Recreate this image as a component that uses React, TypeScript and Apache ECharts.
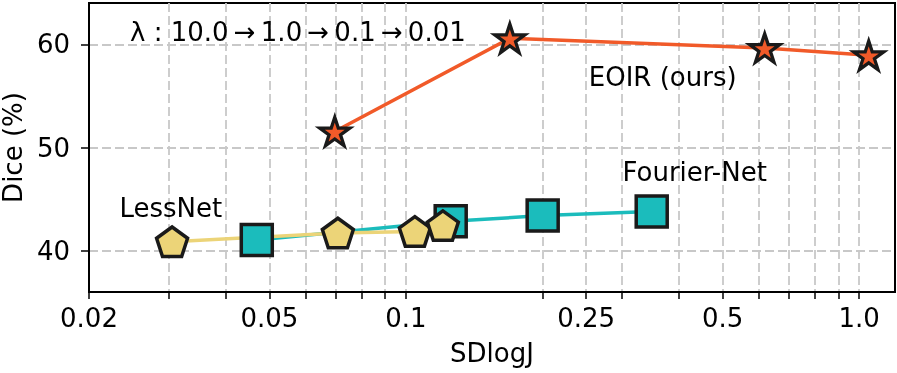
import React, { useEffect, useRef } from 'react';
import * as echarts from 'echarts';

// ---- data ----
const eoirX = [0.0697, 0.1696, 0.619, 1.05];
const eoirY = [51.55, 60.58, 59.64, 58.93];
const fourierX = [0.0469, 0.1256, 0.2004, 0.3487];
const fourierY = [41.04, 42.85, 43.4, 43.8];
const lessX = [0.0305, 0.0708, 0.1047, 0.1207];
const lessY = [40.87, 41.72, 41.87, 42.43];

const xTickValues = [0.02, 0.03, 0.04, 0.05, 0.06, 0.07, 0.08, 0.09, 0.1, 0.2, 0.25, 0.3, 0.4, 0.5, 0.6, 0.7, 0.8, 0.9, 1.0];
const xLabelValues = [0.02, 0.05, 0.1, 0.25, 0.5, 1.0];
const yTickValues = [40, 50, 60];

const annText = ['λ : 10.0\u2009→\u20091.0\u2009→\u20090.1\u2009→\u20090.01', 'EOIR (ours)', 'Fourier-Net', 'LessNet'];
const annX = [0.0578, 0.3687, 0.4337, 0.0303];
const annY = [61.17, 56.8, 47.67, 44.17];

const FONT = 'DejaVu Sans';
const EDGE = '#1a1a1a';
const FS = 26;

function starPath(): string {
  const pts: string[] = [];
  const inner = 0.381966;
  for (let i = 0; i < 10; i++) {
    const r = i % 2 === 0 ? 1 : inner;
    const a = -Math.PI / 2 + (i * Math.PI) / 5;
    pts.push(`${(r * Math.cos(a)).toFixed(4)} ${(r * Math.sin(a)).toFixed(4)}`);
  }
  return 'path://M' + pts.join(' L') + ' Z';
}
function pentagonPath(): string {
  const pts: string[] = [];
  for (let i = 0; i < 5; i++) {
    const a = -Math.PI / 2 + (i * 2 * Math.PI) / 5;
    pts.push(`${Math.cos(a).toFixed(4)} ${Math.sin(a).toFixed(4)}`);
  }
  return 'path://M' + pts.join(' L') + ' Z';
}

const zip = (xs: number[], ys: number[]) => xs.map((x, i) => [x, ys[i]]);

export default function App() {
  const ref = useRef<HTMLDivElement>(null);
  useEffect(() => {
    document.body.style.margin = '0';
    const chart = echarts.init(ref.current!, undefined, { renderer: 'svg' });
    const gridLine = { show: true, lineStyle: { color: '#c8c8c8', width: 1.8, type: [9, 4] as any } };
    chart.setOption({
      animation: false,
      grid: {
        left: 89, right: 2, top: 3, bottom: 81, show: true, borderColor: '#000', borderWidth: 2,
        backgroundColor: 'transparent', containLabel: false, outerBoundsMode: 'none',
      },
      xAxis: {
        type: 'log',
        logBase: 10,
        min: 0.02,
        max: 1.2,
        name: 'SDlogJ',
        nameLocation: 'middle',
        nameGap: 48,
        nameTextStyle: { fontFamily: FONT, fontSize: FS, color: '#000' },
        axisLine: { show: true, lineStyle: { color: '#000', width: 2 } },
        axisTick: { show: true, customValues: xTickValues, length: 7, lineStyle: { color: '#000', width: 1.5 } },
        axisLabel: {
          customValues: xLabelValues,
          fontFamily: FONT, fontSize: FS, color: '#000', margin: 13,
          formatter: (v: number) => (v === 1 ? '1.0' : String(v)),
        },
        splitLine: gridLine,
        minorTick: { show: false },
      },
      yAxis: {
        type: 'value',
        min: 36,
        max: 64,
        name: 'Dice (%)',
        nameLocation: 'middle',
        nameGap: 59,
        nameTextStyle: { fontFamily: FONT, fontSize: FS, color: '#000' },
        axisLine: { show: true, lineStyle: { color: '#000', width: 2 } },
        axisTick: { show: true, customValues: yTickValues, length: 8, lineStyle: { color: '#000', width: 1.5 } },
        axisLabel: { customValues: yTickValues, fontFamily: FONT, fontSize: FS, color: '#000', margin: 19 },
        splitLine: gridLine,
      },
      series: [
        { type: 'line', data: zip(eoirX, eoirY), symbol: 'none', lineStyle: { color: '#F15A29', width: 3.5 }, z: 2 },
        { type: 'line', data: zip(fourierX, fourierY), symbol: 'none', lineStyle: { color: '#1BBCBC', width: 3.5 }, z: 2 },
        { type: 'line', data: zip(lessX, lessY), symbol: 'none', lineStyle: { color: '#ECD478', width: 3.5 }, z: 2 },
        {
          type: 'scatter', data: zip(fourierX, fourierY), symbol: 'rect', symbolSize: 31, z: 3,
          itemStyle: { color: '#1BBCBC', borderColor: EDGE, borderWidth: 3.5, opacity: 1 },
        },
        {
          type: 'scatter', data: zip(lessX, lessY), symbol: pentagonPath(), symbolKeepAspect: true, symbolSize: 31, z: 4,
          itemStyle: { color: '#ECD478', borderColor: EDGE, borderWidth: 3.5, borderJoin: 'miter', opacity: 1 },
        },
        {
          type: 'scatter', data: zip(eoirX, eoirY), symbol: starPath(), symbolKeepAspect: true, symbolSize: 30, z: 5,
          itemStyle: { color: '#F15A29', borderColor: EDGE, borderWidth: 3.3, borderJoin: 'miter', opacity: 1 },
        },
        {
          type: 'scatter', symbolSize: 0, z: 6, silent: true,
          itemStyle: { opacity: 1 },
          data: annText.map((t, i) => ({ value: [annX[i], annY[i]], name: t })),
          label: {
            show: true, position: 'inside', formatter: (p: any) => p.name,
            fontFamily: FONT, fontSize: FS, color: '#000', opacity: 1,
          },
        },
      ],
    });
    return () => chart.dispose();
  }, []);
  return <div ref={ref} style={{ position: 'fixed', left: 0, top: 0, width: 897, height: 373 }} />;
}
